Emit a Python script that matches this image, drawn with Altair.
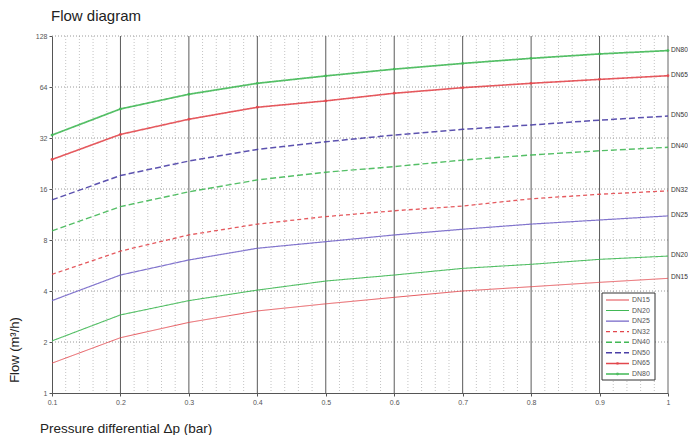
import altair as alt
import pandas as pd

pressure = [0.1, 0.2, 0.3, 0.4, 0.5, 0.6, 0.7, 0.8, 0.9, 1.0]
series_names = ["DN15", "DN20", "DN25", "DN32", "DN40", "DN50", "DN65", "DN80"]
dn15 = [1.50, 2.12, 2.61, 3.05, 3.36, 3.67, 4.00, 4.24, 4.50, 4.75]
dn20 = [2.03, 2.89, 3.51, 4.05, 4.58, 4.97, 5.44, 5.75, 6.15, 6.43]
dn25 = [3.51, 4.97, 6.10, 7.15, 7.82, 8.57, 9.26, 9.93, 10.5, 11.1]
dn32 = [5.02, 6.88, 8.57, 9.93, 11.0, 11.9, 12.7, 14.0, 14.9, 15.6]
dn40 = [9.05, 12.6, 15.4, 18.1, 20.1, 21.7, 23.7, 25.4, 26.9, 28.2]
dn50 = [13.8, 19.2, 23.4, 27.4, 30.4, 33.3, 36.0, 38.2, 40.8, 43.1]
dn65 = [23.9, 33.6, 41.3, 48.6, 53.0, 58.8, 63.4, 67.3, 71.0, 74.6]
dn80 = [33.3, 47.5, 58.0, 67.3, 74.4, 81.6, 88.2, 94.5, 100.3, 105.0]

x_ticks = [0.1, 0.2, 0.3, 0.4, 0.5, 0.6, 0.7, 0.8, 0.9, 1.0]
y_ticks = [1, 2, 4, 8, 16, 32, 64, 128]
major_x = [0.2, 0.3, 0.4, 0.5, 0.6, 0.7, 0.8, 0.9]
minor_x = [0.12, 0.14, 0.16, 0.18, 0.22, 0.24, 0.26, 0.28, 0.32, 0.34, 0.36, 0.38,
           0.42, 0.44, 0.46, 0.48, 0.52, 0.54, 0.56, 0.58, 0.62, 0.64, 0.66, 0.68,
           0.72, 0.74, 0.76, 0.78, 0.82, 0.84, 0.86, 0.88, 0.92, 0.94, 0.96, 0.98]
grid_y = [2, 4, 8, 16, 32, 64, 128]
marker_series = ["DN65", "DN80"]

colors = ["#e2474d", "#41b855", "#7466c8", "#e2474d", "#41b855", "#4a3fa6", "#e2474d", "#41b855"]
dashes = [[1, 0], [1, 0], [1, 0], [4, 3], [6, 3], [6, 3], [1, 0], [1, 0]]
widths = [1.0, 1.7, 1.1, 1.0, 1.7, 1.1, 1.0, 1.7]

all_vals = [dn15, dn20, dn25, dn32, dn40, dn50, dn65, dn80]
rows = []
for name, vals in zip(series_names, all_vals):
    for p, v in zip(pressure, vals):
        rows.append({"pressure": p, "flow": v, "series": name})
df = pd.DataFrame(rows)
legend_df = pd.DataFrame({"series": series_names})

FONT = "Liberation Sans"

xscale = alt.Scale(domain=[0.1, 1.0], nice=False, zero=False)
yscale = alt.Scale(type="log", base=2, domain=[1, 128], nice=False)
cscale = alt.Scale(domain=series_names, range=colors)
dscale = alt.Scale(domain=series_names, range=dashes)
wscale = alt.Scale(domain=series_names, range=widths)
# legend rows: a point scale over the series names
lscale = alt.Scale(type="point", domain=series_names, range=[264, 338], padding=0)

x_axis = alt.Axis(values=x_ticks, format="~g", title=None, grid=False,
                  labelFontSize=7, labelColor="#555", labelFont=FONT,
                  tickSize=3, tickColor="#555", domainColor="#555",
                  labelPadding=2, labelFlush=False)
y_axis = alt.Axis(values=y_ticks, format="d", title=None, grid=False,
                  labelFontSize=7, labelColor="#555", labelFont=FONT,
                  tickSize=3, tickColor="#555", domainColor="#555",
                  labelPadding=2, labelFlush=False)

minor = alt.Chart(pd.DataFrame({"x": minor_x})).mark_rule(
    color="#c4c4c4", strokeDash=[1, 2], strokeWidth=1
).encode(x=alt.X("x:Q", scale=xscale, axis=x_axis))

major = alt.Chart(pd.DataFrame({"x": major_x})).mark_rule(
    color="#5a5a5a", strokeWidth=1
).encode(x=alt.X("x:Q", scale=xscale))

hgrid = alt.Chart(pd.DataFrame({"y": grid_y})).mark_rule(
    color="#9a9a9a", strokeDash=[1, 2], strokeWidth=1
).encode(y=alt.Y("y:Q", scale=yscale, axis=y_axis))

right_border = alt.Chart(pd.DataFrame({"x": [1.0]})).mark_rule(
    color="#666", strokeWidth=1
).encode(x=alt.X("x:Q", scale=xscale))

lines = alt.Chart(df).mark_line(opacity=0.9).encode(
    x=alt.X("pressure:Q", scale=xscale),
    y=alt.Y("flow:Q", scale=yscale, axis=None),
    color=alt.Color("series:N", scale=cscale, legend=None),
    strokeDash=alt.StrokeDash("series:N", scale=dscale, legend=None),
    strokeWidth=alt.StrokeWidth("series:N", scale=wscale, legend=None),
    detail="series:N",
)

pts = alt.Chart(df).transform_filter(
    alt.FieldOneOfPredicate(field="series", oneOf=marker_series)
).mark_point(filled=True, size=8, opacity=0.9).encode(
    x=alt.X("pressure:Q", scale=xscale),
    y=alt.Y("flow:Q", scale=yscale, axis=None),
    color=alt.Color("series:N", scale=cscale, legend=None),
)

end_labels = alt.Chart(df).transform_filter(
    alt.datum.pressure == 1.0
).mark_text(align="left", baseline="middle", dx=3, dy=-1, fontSize=6.6,
            color="#333", font=FONT).encode(
    x=alt.X("pressure:Q", scale=xscale),
    y=alt.Y("flow:Q", scale=yscale, axis=None),
    text="series:N",
)

# legend box
leg_box = alt.Chart(pd.DataFrame({"a": [0]})).mark_rect(
    fill="white", stroke="#333", strokeWidth=1
).encode(x=alt.value(550), x2=alt.value(603), y=alt.value(257), y2=alt.value(344))

leg_lines = alt.Chart(legend_df).mark_rule().encode(
    x=alt.value(554), x2=alt.value(577),
    y=alt.Y("series:N", scale=lscale, axis=None),
    color=alt.Color("series:N", scale=cscale, legend=None),
    strokeDash=alt.StrokeDash("series:N", scale=dscale, legend=None),
    strokeWidth=alt.StrokeWidth("series:N", scale=wscale, legend=None),
)

leg_pts = alt.Chart(legend_df).transform_filter(
    alt.FieldOneOfPredicate(field="series", oneOf=marker_series)
).mark_point(filled=True, size=8).encode(
    x=alt.value(565.5),
    y=alt.Y("series:N", scale=lscale, axis=None),
    color=alt.Color("series:N", scale=cscale, legend=None),
)

leg_text = alt.Chart(legend_df).mark_text(
    align="left", baseline="middle", fontSize=7, color="#555", font=FONT
).encode(
    x=alt.value(580),
    y=alt.Y("series:N", scale=lscale, axis=None),
    text="series:N",
)

title_txt = alt.Chart(pd.DataFrame({"t": ["Flow diagram"]})).mark_text(
    align="left", baseline="alphabetic", fontSize=15, color="#222", font=FONT
).encode(text="t:N", x=alt.value(-1), y=alt.value(-15))

xtitle = alt.Chart(pd.DataFrame({"t": ["Pressure differential Δp (bar)"]})).mark_text(
    align="left", baseline="alphabetic", fontSize=13.5, color="#222", font=FONT
).encode(text="t:N", x=alt.value(-12), y=alt.value(397))

ytitle = alt.Chart(pd.DataFrame({"t": ["Flow (m³/h)"]})).mark_text(
    align="center", baseline="alphabetic", fontSize=13, color="#222", font=FONT,
    angle=270
).encode(text="t:N", x=alt.value(-33), y=alt.value(314))

chart = alt.layer(
    minor, hgrid, major, right_border, lines, pts, end_labels,
    leg_box, leg_lines, leg_pts, leg_text, title_txt, xtitle, ytitle
).resolve_scale(y="independent").properties(
    width=616, height=357, autosize="none",
    padding={"left": 44, "top": 28, "right": 20, "bottom": 42},
    background="white",
).configure_view(stroke=None)

chart.save("out.html", embed_options={"renderer": "svg", "actions": False})
